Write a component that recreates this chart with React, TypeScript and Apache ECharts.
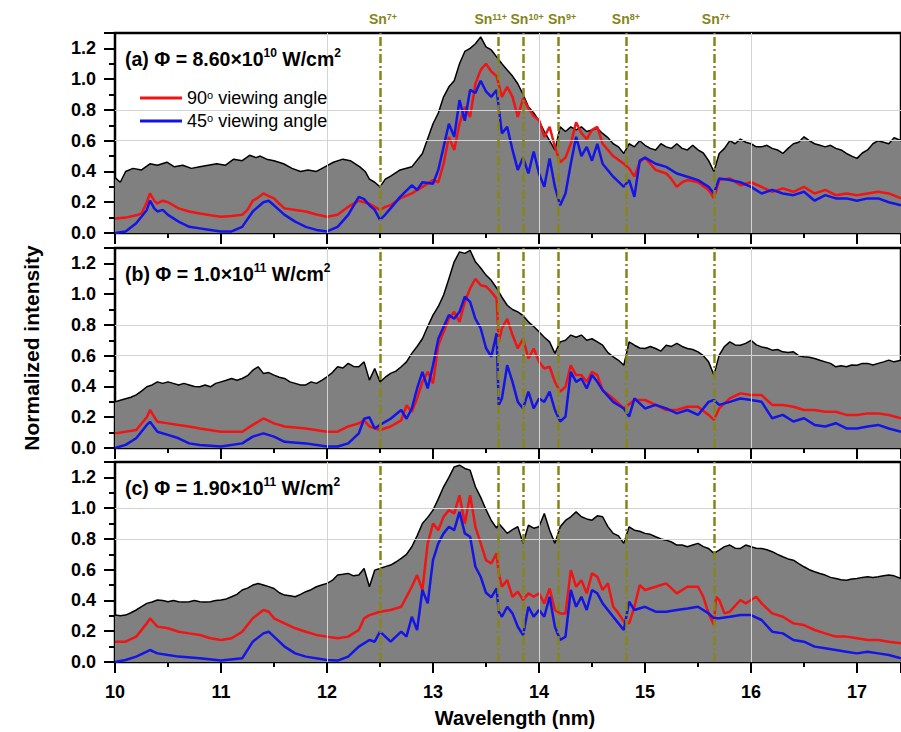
import React, { useEffect, useRef } from "react";
import * as echarts from "echarts";

// ---- Data (wavelength nm, normalized intensity) ----
const aBlack: [number, number][] = [[10.0,0.36],[10.05,0.33],[10.1,0.40],[10.17,0.42],[10.25,0.41],[10.33,0.45],[10.4,0.44],[10.49,0.46],[10.56,0.43],[10.64,0.44],[10.72,0.42],[10.8,0.43],[10.88,0.44],[10.96,0.45],[11.04,0.44],[11.12,0.48],[11.2,0.47],[11.27,0.505],[11.33,0.49],[11.37,0.50],[11.43,0.48],[11.5,0.47],[11.59,0.45],[11.67,0.42],[11.75,0.40],[11.82,0.41],[11.9,0.40],[11.98,0.43],[12.06,0.46],[12.15,0.48],[12.22,0.47],[12.31,0.43],[12.36,0.40],[12.4,0.35],[12.45,0.33],[12.5,0.30],[12.55,0.35],[12.6,0.37],[12.69,0.41],[12.8,0.43],[12.9,0.517],[13.0,0.71],[13.05,0.78],[13.1,0.885],[13.15,0.95],[13.2,0.99],[13.25,1.10],[13.3,1.18],[13.35,1.20],[13.4,1.23],[13.45,1.275],[13.5,1.21],[13.55,1.19],[13.6,1.145],[13.65,1.10],[13.7,1.06],[13.75,1.02],[13.8,0.97],[13.85,0.90],[13.9,0.82],[13.95,0.78],[14.0,0.73],[14.05,0.66],[14.1,0.60],[14.15,0.54],[14.2,0.69],[14.25,0.66],[14.3,0.69],[14.35,0.67],[14.4,0.69],[14.45,0.66],[14.5,0.67],[14.55,0.68],[14.6,0.647],[14.65,0.62],[14.7,0.58],[14.75,0.56],[14.8,0.517],[14.85,0.58],[14.9,0.56],[14.95,0.60],[15.0,0.57],[15.05,0.55],[15.1,0.54],[15.15,0.58],[15.2,0.56],[15.25,0.55],[15.3,0.58],[15.35,0.55],[15.4,0.54],[15.45,0.57],[15.5,0.54],[15.55,0.52],[15.6,0.47],[15.65,0.40],[15.7,0.517],[15.75,0.55],[15.8,0.60],[15.85,0.58],[15.9,0.61],[15.95,0.59],[16.0,0.58],[16.05,0.56],[16.1,0.56],[16.15,0.57],[16.2,0.55],[16.25,0.54],[16.3,0.517],[16.35,0.55],[16.4,0.58],[16.45,0.59],[16.5,0.625],[16.55,0.60],[16.6,0.58],[16.65,0.57],[16.7,0.56],[16.75,0.57],[16.8,0.55],[16.85,0.54],[16.9,0.517],[16.95,0.50],[17.0,0.485],[17.05,0.52],[17.1,0.54],[17.15,0.58],[17.2,0.60],[17.25,0.59],[17.3,0.58],[17.35,0.62],[17.415,0.60]];
const aRed: [number, number][] = [[10.0,0.095],[10.1,0.10],[10.2,0.115],[10.25,0.127],[10.3,0.20],[10.33,0.257],[10.37,0.21],[10.4,0.192],[10.45,0.21],[10.5,0.20],[10.6,0.16],[10.7,0.14],[10.8,0.127],[10.9,0.115],[11.0,0.106],[11.1,0.11],[11.2,0.118],[11.25,0.15],[11.3,0.21],[11.35,0.23],[11.4,0.257],[11.45,0.24],[11.5,0.225],[11.55,0.19],[11.6,0.16],[11.7,0.15],[11.8,0.14],[11.9,0.12],[12.0,0.106],[12.1,0.118],[12.2,0.17],[12.3,0.21],[12.35,0.20],[12.4,0.19],[12.45,0.17],[12.5,0.15],[12.55,0.17],[12.6,0.18],[12.69,0.225],[12.8,0.257],[12.9,0.30],[13.0,0.344],[13.05,0.33],[13.1,0.45],[13.15,0.625],[13.2,0.54],[13.25,0.71],[13.3,0.82],[13.35,0.755],[13.4,0.97],[13.45,1.06],[13.5,1.10],[13.55,1.05],[13.6,1.02],[13.65,0.885],[13.7,0.95],[13.75,0.885],[13.8,0.755],[13.85,0.875],[13.9,0.81],[13.95,0.76],[14.0,0.733],[14.05,0.625],[14.1,0.69],[14.15,0.56],[14.2,0.46],[14.25,0.49],[14.3,0.58],[14.35,0.72],[14.4,0.65],[14.45,0.61],[14.5,0.67],[14.55,0.69],[14.6,0.58],[14.7,0.50],[14.8,0.45],[14.85,0.42],[14.9,0.366],[14.95,0.46],[15.0,0.49],[15.05,0.45],[15.1,0.41],[15.2,0.387],[15.25,0.35],[15.3,0.30],[15.35,0.33],[15.4,0.344],[15.5,0.33],[15.6,0.28],[15.65,0.225],[15.7,0.344],[15.8,0.355],[15.9,0.31],[16.0,0.33],[16.1,0.30],[16.2,0.268],[16.3,0.29],[16.4,0.268],[16.5,0.30],[16.6,0.257],[16.7,0.28],[16.8,0.246],[16.9,0.257],[17.0,0.246],[17.1,0.257],[17.2,0.268],[17.3,0.257],[17.415,0.225]];
const aBlue: [number, number][] = [[10.0,0.0],[10.1,0.01],[10.2,0.063],[10.3,0.15],[10.33,0.21],[10.37,0.16],[10.4,0.14],[10.45,0.15],[10.5,0.118],[10.6,0.074],[10.7,0.04],[10.8,0.03],[10.9,0.02],[11.0,0.01],[11.1,0.01],[11.2,0.04],[11.3,0.14],[11.4,0.20],[11.45,0.21],[11.5,0.18],[11.6,0.118],[11.7,0.074],[11.8,0.04],[11.9,0.02],[12.0,0.01],[12.1,0.04],[12.2,0.118],[12.3,0.235],[12.35,0.22],[12.4,0.18],[12.45,0.15],[12.5,0.085],[12.55,0.12],[12.6,0.16],[12.69,0.235],[12.8,0.31],[12.85,0.28],[12.9,0.33],[13.0,0.32],[13.05,0.41],[13.1,0.56],[13.15,0.71],[13.2,0.625],[13.25,0.864],[13.3,0.73],[13.35,0.93],[13.4,0.91],[13.45,0.99],[13.5,0.92],[13.55,0.885],[13.6,0.93],[13.65,0.647],[13.7,0.69],[13.75,0.54],[13.8,0.41],[13.85,0.49],[13.9,0.387],[13.95,0.53],[14.0,0.387],[14.05,0.30],[14.1,0.485],[14.15,0.30],[14.2,0.18],[14.25,0.257],[14.3,0.45],[14.35,0.625],[14.4,0.50],[14.45,0.56],[14.5,0.47],[14.55,0.58],[14.6,0.45],[14.7,0.366],[14.8,0.30],[14.85,0.344],[14.9,0.235],[14.95,0.47],[15.0,0.49],[15.1,0.45],[15.2,0.43],[15.3,0.387],[15.4,0.366],[15.5,0.344],[15.6,0.30],[15.65,0.257],[15.7,0.355],[15.8,0.344],[15.9,0.33],[16.0,0.30],[16.1,0.257],[16.2,0.28],[16.3,0.257],[16.4,0.246],[16.5,0.268],[16.6,0.21],[16.7,0.246],[16.8,0.225],[16.9,0.225],[17.0,0.21],[17.1,0.225],[17.2,0.225],[17.3,0.20],[17.415,0.18]];

const bBlack: [number, number][] = [[10.0,0.30],[10.05,0.31],[10.1,0.32],[10.15,0.33],[10.2,0.345],[10.25,0.37],[10.3,0.398],[10.35,0.41],[10.4,0.43],[10.45,0.42],[10.5,0.43],[10.55,0.42],[10.6,0.41],[10.65,0.42],[10.7,0.41],[10.75,0.40],[10.8,0.398],[10.85,0.41],[10.9,0.398],[10.95,0.42],[11.0,0.43],[11.05,0.44],[11.1,0.452],[11.15,0.44],[11.2,0.452],[11.25,0.47],[11.3,0.506],[11.35,0.528],[11.4,0.485],[11.45,0.49],[11.5,0.474],[11.55,0.46],[11.6,0.452],[11.65,0.43],[11.7,0.42],[11.75,0.41],[11.8,0.41],[11.85,0.43],[11.9,0.42],[11.95,0.44],[12.0,0.463],[12.05,0.49],[12.1,0.528],[12.15,0.52],[12.2,0.55],[12.25,0.53],[12.3,0.528],[12.35,0.56],[12.4,0.441],[12.45,0.517],[12.5,0.43],[12.55,0.46],[12.6,0.485],[12.65,0.50],[12.7,0.528],[12.75,0.56],[12.8,0.615],[12.85,0.66],[12.9,0.71],[12.95,0.79],[13.0,0.864],[13.05,0.92],[13.1,0.994],[13.15,1.10],[13.2,1.21],[13.25,1.275],[13.3,1.265],[13.35,1.285],[13.4,1.21],[13.45,1.17],[13.5,1.124],[13.55,1.09],[13.6,1.04],[13.65,0.98],[13.7,0.928],[13.75,0.90],[13.8,0.885],[13.85,0.86],[13.9,0.82],[13.95,0.79],[14.0,0.755],[14.05,0.72],[14.1,0.69],[14.15,0.615],[14.2,0.69],[14.25,0.70],[14.3,0.734],[14.35,0.72],[14.4,0.734],[14.45,0.70],[14.5,0.71],[14.55,0.69],[14.6,0.668],[14.65,0.62],[14.7,0.593],[14.75,0.57],[14.8,0.538],[14.85,0.69],[14.9,0.668],[14.95,0.65],[15.0,0.647],[15.05,0.66],[15.1,0.647],[15.15,0.63],[15.2,0.668],[15.25,0.66],[15.3,0.68],[15.35,0.66],[15.4,0.647],[15.45,0.64],[15.5,0.625],[15.55,0.60],[15.6,0.56],[15.65,0.474],[15.7,0.604],[15.75,0.66],[15.8,0.69],[15.85,0.67],[15.9,0.668],[15.95,0.68],[16.0,0.70],[16.05,0.67],[16.1,0.657],[16.15,0.65],[16.2,0.636],[16.25,0.64],[16.3,0.625],[16.35,0.62],[16.4,0.625],[16.45,0.60],[16.5,0.593],[16.55,0.59],[16.6,0.582],[16.65,0.57],[16.7,0.56],[16.75,0.55],[16.8,0.528],[16.85,0.535],[16.9,0.528],[16.95,0.54],[17.0,0.538],[17.05,0.55],[17.1,0.55],[17.15,0.54],[17.2,0.55],[17.25,0.56],[17.3,0.571],[17.35,0.56],[17.415,0.571]];
const bRed: [number, number][] = [[10.0,0.095],[10.2,0.117],[10.3,0.20],[10.33,0.247],[10.4,0.17],[10.5,0.16],[10.6,0.15],[10.7,0.14],[10.8,0.127],[11.0,0.106],[11.2,0.106],[11.3,0.15],[11.4,0.192],[11.5,0.16],[11.6,0.14],[11.8,0.127],[12.0,0.106],[12.1,0.106],[12.2,0.14],[12.3,0.16],[12.35,0.18],[12.4,0.14],[12.5,0.117],[12.6,0.14],[12.7,0.18],[12.75,0.277],[12.8,0.236],[12.85,0.322],[12.9,0.43],[12.95,0.495],[13.0,0.42],[13.05,0.668],[13.1,0.755],[13.15,0.84],[13.2,0.885],[13.25,0.82],[13.3,0.95],[13.35,1.037],[13.4,1.10],[13.45,1.058],[13.5,1.05],[13.55,1.015],[13.6,0.972],[13.62,0.69],[13.65,0.777],[13.7,0.84],[13.75,0.734],[13.8,0.647],[13.85,0.71],[13.9,0.582],[13.95,0.647],[14.0,0.56],[14.05,0.517],[14.1,0.528],[14.15,0.43],[14.2,0.366],[14.25,0.398],[14.3,0.538],[14.35,0.474],[14.4,0.474],[14.45,0.43],[14.5,0.495],[14.55,0.474],[14.6,0.376],[14.7,0.322],[14.8,0.257],[14.9,0.312],[15.0,0.312],[15.1,0.28],[15.2,0.247],[15.3,0.247],[15.4,0.268],[15.5,0.268],[15.6,0.215],[15.65,0.183],[15.7,0.257],[15.8,0.322],[15.9,0.355],[16.0,0.344],[16.1,0.344],[16.2,0.28],[16.3,0.28],[16.4,0.268],[16.5,0.247],[16.6,0.247],[16.7,0.236],[16.8,0.236],[16.9,0.215],[17.0,0.215],[17.1,0.225],[17.2,0.225],[17.3,0.215],[17.415,0.193]];
const bBlue: [number, number][] = [[10.0,0.0],[10.1,0.02],[10.2,0.063],[10.3,0.15],[10.33,0.17],[10.4,0.106],[10.5,0.085],[10.6,0.063],[10.7,0.03],[10.8,0.02],[11.0,0.01],[11.2,0.03],[11.3,0.074],[11.4,0.095],[11.5,0.074],[11.6,0.04],[11.8,0.03],[12.0,0.01],[12.1,0.01],[12.2,0.03],[12.3,0.095],[12.35,0.19],[12.4,0.20],[12.45,0.127],[12.5,0.15],[12.6,0.19],[12.7,0.247],[12.75,0.19],[12.8,0.257],[12.85,0.387],[12.9,0.495],[12.95,0.387],[13.0,0.538],[13.05,0.71],[13.1,0.788],[13.15,0.864],[13.2,0.84],[13.25,0.885],[13.3,0.983],[13.35,0.95],[13.4,0.84],[13.45,0.777],[13.5,0.65],[13.55,0.593],[13.6,0.745],[13.62,0.28],[13.65,0.322],[13.7,0.538],[13.75,0.43],[13.8,0.30],[13.85,0.257],[13.9,0.366],[13.95,0.257],[14.0,0.322],[14.05,0.30],[14.1,0.366],[14.15,0.247],[14.2,0.172],[14.25,0.204],[14.3,0.495],[14.35,0.43],[14.4,0.452],[14.45,0.387],[14.5,0.474],[14.55,0.43],[14.6,0.376],[14.7,0.30],[14.8,0.257],[14.85,0.204],[14.9,0.322],[15.0,0.257],[15.1,0.28],[15.2,0.257],[15.3,0.225],[15.4,0.247],[15.5,0.215],[15.6,0.30],[15.65,0.312],[15.7,0.28],[15.8,0.30],[15.9,0.322],[16.0,0.312],[16.1,0.30],[16.2,0.193],[16.3,0.215],[16.4,0.172],[16.5,0.193],[16.6,0.15],[16.7,0.14],[16.8,0.161],[16.9,0.127],[17.0,0.127],[17.1,0.14],[17.2,0.15],[17.3,0.127],[17.415,0.106]];

const cBlack: [number, number][] = [[10.0,0.305],[10.05,0.30],[10.1,0.305],[10.15,0.32],[10.2,0.338],[10.25,0.36],[10.3,0.381],[10.35,0.39],[10.4,0.403],[10.45,0.40],[10.5,0.392],[10.55,0.40],[10.6,0.392],[10.65,0.39],[10.7,0.392],[10.75,0.40],[10.8,0.392],[10.85,0.39],[10.9,0.392],[10.95,0.40],[11.0,0.403],[11.05,0.41],[11.1,0.424],[11.15,0.44],[11.2,0.468],[11.25,0.48],[11.3,0.50],[11.35,0.51],[11.4,0.50],[11.45,0.49],[11.5,0.478],[11.55,0.45],[11.6,0.435],[11.65,0.43],[11.7,0.424],[11.75,0.44],[11.8,0.457],[11.85,0.47],[11.9,0.489],[11.95,0.50],[12.0,0.511],[12.05,0.53],[12.1,0.565],[12.15,0.57],[12.2,0.576],[12.25,0.56],[12.3,0.565],[12.35,0.608],[12.4,0.489],[12.45,0.597],[12.5,0.608],[12.55,0.62],[12.6,0.63],[12.65,0.65],[12.7,0.673],[12.75,0.70],[12.8,0.749],[12.85,0.82],[12.9,0.90],[12.95,0.94],[13.0,0.987],[13.05,1.06],[13.1,1.139],[13.15,1.20],[13.2,1.268],[13.25,1.279],[13.3,1.258],[13.35,1.247],[13.4,1.139],[13.45,1.07],[13.5,0.99],[13.55,0.92],[13.6,0.87],[13.62,0.90],[13.66,0.87],[13.7,0.836],[13.75,0.86],[13.8,0.879],[13.85,0.771],[13.9,0.889],[13.95,0.87],[14.0,0.879],[14.05,0.965],[14.1,0.857],[14.15,0.771],[14.2,0.879],[14.25,0.92],[14.3,0.944],[14.35,0.976],[14.4,0.944],[14.45,0.93],[14.5,0.922],[14.55,0.95],[14.6,0.944],[14.65,0.88],[14.7,0.836],[14.75,0.82],[14.8,0.771],[14.85,0.879],[14.9,0.857],[14.95,0.85],[15.0,0.836],[15.05,0.83],[15.1,0.814],[15.15,0.80],[15.2,0.792],[15.25,0.78],[15.3,0.76],[15.35,0.76],[15.4,0.749],[15.45,0.76],[15.5,0.771],[15.55,0.75],[15.6,0.738],[15.65,0.706],[15.7,0.727],[15.75,0.75],[15.8,0.76],[15.85,0.74],[15.9,0.738],[15.95,0.76],[16.0,0.749],[16.05,0.74],[16.1,0.738],[16.15,0.73],[16.2,0.717],[16.25,0.70],[16.3,0.684],[16.35,0.67],[16.4,0.662],[16.45,0.64],[16.5,0.619],[16.55,0.60],[16.6,0.587],[16.65,0.575],[16.7,0.565],[16.75,0.55],[16.8,0.543],[16.85,0.535],[16.9,0.532],[16.95,0.54],[17.0,0.543],[17.05,0.55],[17.1,0.554],[17.15,0.55],[17.2,0.554],[17.25,0.56],[17.3,0.565],[17.35,0.56],[17.415,0.543]];
const cRed: [number, number][] = [[10.0,0.132],[10.1,0.132],[10.2,0.165],[10.3,0.251],[10.33,0.284],[10.4,0.23],[10.5,0.219],[10.6,0.197],[10.7,0.186],[10.8,0.176],[10.9,0.154],[11.0,0.143],[11.1,0.154],[11.2,0.197],[11.3,0.284],[11.4,0.338],[11.45,0.327],[11.5,0.284],[11.6,0.251],[11.7,0.219],[11.8,0.197],[11.9,0.176],[12.0,0.165],[12.1,0.154],[12.2,0.165],[12.3,0.208],[12.35,0.284],[12.4,0.305],[12.5,0.327],[12.6,0.338],[12.7,0.359],[12.75,0.424],[12.8,0.489],[12.85,0.565],[12.9,0.468],[12.95,0.771],[13.0,0.90],[13.05,0.857],[13.1,0.944],[13.15,0.987],[13.2,0.965],[13.25,1.084],[13.3,0.90],[13.35,1.084],[13.4,0.879],[13.45,0.771],[13.5,0.662],[13.55,0.64],[13.6,0.706],[13.62,0.576],[13.65,0.489],[13.7,0.532],[13.75,0.424],[13.8,0.457],[13.85,0.403],[13.9,0.446],[13.95,0.424],[14.0,0.446],[14.05,0.381],[14.1,0.478],[14.15,0.338],[14.2,0.316],[14.25,0.316],[14.3,0.597],[14.35,0.489],[14.4,0.532],[14.45,0.446],[14.5,0.576],[14.55,0.554],[14.6,0.468],[14.65,0.511],[14.7,0.359],[14.75,0.316],[14.8,0.262],[14.85,0.251],[14.9,0.359],[14.95,0.50],[15.0,0.468],[15.1,0.489],[15.2,0.511],[15.3,0.446],[15.4,0.489],[15.5,0.489],[15.55,0.424],[15.6,0.316],[15.65,0.24],[15.67,0.424],[15.7,0.403],[15.75,0.316],[15.8,0.327],[15.9,0.403],[15.95,0.381],[16.0,0.403],[16.05,0.424],[16.1,0.381],[16.2,0.316],[16.3,0.294],[16.4,0.251],[16.5,0.24],[16.6,0.208],[16.7,0.186],[16.8,0.165],[16.9,0.165],[17.0,0.154],[17.1,0.143],[17.2,0.143],[17.3,0.132],[17.415,0.121]];
const cBlue: [number, number][] = [[10.0,0.0],[10.1,0.013],[10.2,0.035],[10.3,0.067],[10.33,0.078],[10.4,0.056],[10.5,0.045],[10.6,0.035],[10.8,0.024],[11.0,0.009],[11.2,0.024],[11.3,0.132],[11.4,0.186],[11.45,0.197],[11.5,0.165],[11.6,0.10],[11.7,0.056],[11.8,0.035],[12.0,0.013],[12.1,0.009],[12.2,0.035],[12.3,0.10],[12.4,0.143],[12.45,0.132],[12.5,0.197],[12.55,0.165],[12.6,0.132],[12.7,0.197],[12.75,0.165],[12.8,0.294],[12.85,0.208],[12.9,0.468],[12.95,0.381],[13.0,0.662],[13.05,0.771],[13.1,0.836],[13.15,0.879],[13.2,0.857],[13.25,0.976],[13.3,0.836],[13.35,0.814],[13.4,0.619],[13.45,0.554],[13.5,0.45],[13.55,0.42],[13.6,0.478],[13.62,0.327],[13.65,0.294],[13.7,0.359],[13.75,0.316],[13.8,0.229],[13.85,0.175],[13.9,0.359],[13.95,0.294],[14.0,0.338],[14.05,0.294],[14.1,0.424],[14.15,0.229],[14.2,0.143],[14.25,0.165],[14.3,0.468],[14.35,0.359],[14.4,0.424],[14.45,0.338],[14.5,0.468],[14.55,0.446],[14.6,0.381],[14.7,0.294],[14.75,0.251],[14.8,0.208],[14.85,0.392],[14.9,0.338],[15.0,0.359],[15.1,0.327],[15.2,0.327],[15.3,0.338],[15.4,0.348],[15.5,0.359],[15.6,0.316],[15.65,0.284],[15.7,0.284],[15.8,0.294],[15.9,0.305],[16.0,0.305],[16.1,0.273],[16.2,0.197],[16.3,0.186],[16.4,0.143],[16.5,0.132],[16.6,0.10],[16.7,0.089],[16.8,0.078],[16.9,0.067],[17.0,0.056],[17.1,0.067],[17.2,0.056],[17.3,0.045],[17.415,0.024]];

const ionLines: number[] = [12.5, 13.62, 13.85, 14.18, 14.82, 15.65];
const ionLabels: string[] = ["7+", "11+", "10+", "9+", "8+", "7+"];
const ionLabelShift: number[] = [3, -8, 4, 4, 0, 2];

const panelTitles = [
  { tag: "(a)", base: "8.60", exp: "10" },
  { tag: "(b)", base: "1.0", exp: "11" },
  { tag: "(c)", base: "1.90", exp: "11" },
];
const panelGridY: number[][] = [[0.6, 0.8], [0.6, 0.8], [0.8, 1.0]];
const gridX: number[] = [12, 14, 16];

const NAME90 = "90° viewing angle";
const NAME45 = "45° viewing angle";

const FONT = "'Liberation Sans', Arial, Helvetica, sans-serif";
const OLIVE = "#85851a";

export default function App() {
  const ref = useRef<HTMLDivElement>(null);

  useEffect(() => {
    if (!ref.current) return;
    const chart = echarts.init(ref.current, undefined, { renderer: "svg" });
    const tops = [33, 248, 462];
    const H = 200;
    const panels = [
      { black: aBlack, red: aRed, blue: aBlue },
      { black: bBlack, red: bRed, blue: bBlue },
      { black: cBlack, red: cRed, blue: cBlue },
    ];

    const grid = tops.map((t) => ({
      left: 115,
      right: 0,
      top: t,
      height: H,
      show: true,
      borderColor: "#000",
      borderWidth: 2.5,
      backgroundColor: "transparent",
    }));

    const xAxis = tops.map((_, i) => ({
      type: "value",
      gridIndex: i,
      min: 10,
      max: 17.415,
      interval: 1,
      axisLine: { show: true, onZero: false, lineStyle: { color: "#000", width: 2 } },
      axisTick: { show: true, inside: false, length: 11, lineStyle: { color: "#000", width: 2 } },
      minorTick: { show: true, splitNumber: 2, length: 5, lineStyle: { color: "#000", width: 2 } },
      splitLine: { show: false },
      axisLabel: {
        show: i === 2,
        margin: 21,
        color: "#000",
        fontSize: 18,
        fontWeight: "bold",
        fontFamily: FONT,
        showMaxLabel: false,
      },
      name: i === 2 ? "Wavelength (nm)" : "",
      nameLocation: "middle",
      nameGap: 46,
      nameTextStyle: { color: "#000", fontSize: 20, fontWeight: "bold", fontFamily: FONT, padding: [0, 0, 0, 14] },
    }));

    const yAxis = tops.map((_, i) => ({
      type: "value",
      gridIndex: i,
      min: 0,
      max: 1.3,
      interval: 0.2,
      axisLine: { show: true, lineStyle: { color: "#000", width: 2 } },
      axisTick: { show: true, inside: false, length: 11, lineStyle: { color: "#000", width: 2 } },
      minorTick: { show: true, splitNumber: 2, length: 6, lineStyle: { color: "#000", width: 2 } },
      splitLine: { show: false },
      axisLabel: {
        margin: 19,
        color: "#000",
        fontSize: 18,
        fontWeight: "bold",
        fontFamily: FONT,
        showMaxLabel: false,
        formatter: (v: number) => (Math.abs(v - 1.3) < 1e-6 ? "" : v.toFixed(1)),
      },
      name: i === 1 ? "Normalized intensity" : "",
      nameLocation: "middle",
      nameGap: 73,
      nameTextStyle: { color: "#000", fontSize: 21, fontWeight: "bold", fontFamily: FONT },
    }));

    const series: any[] = [];
    panels.forEach((p, i) => {
      series.push({
        type: "line",
        xAxisIndex: i,
        yAxisIndex: i,
        data: [],
        z: 0,
        silent: true,
        markLine: {
          silent: true,
          symbol: "none",
          animation: false,
          label: { show: false },
          lineStyle: { color: "#d4d4d4", width: 1, type: "solid" },
          data: [
            ...panelGridY[i].map((v) => ({ yAxis: v })),
            ...gridX.map((v) => ({ xAxis: v })),
          ],
        },
      });
      series.push({
        type: "line",
        name: "total",
        xAxisIndex: i,
        yAxisIndex: i,
        data: p.black,
        showSymbol: false,
        symbol: "none",
        z: 1,
        lineStyle: { color: "#000", width: 1.5 },
        itemStyle: { color: "#000" },
        areaStyle: { color: "#808080", opacity: 1 },
      });
      series.push({
        type: "line",
        xAxisIndex: i,
        yAxisIndex: i,
        data: [],
        z: 2,
        silent: true,
        markLine: {
          silent: true,
          symbol: "none",
          animation: false,
          lineStyle: { color: OLIVE, width: 2.5, type: [9, 3, 2, 3] },
          label: {
            show: i === 0,
            position: "end",
            distance: 7,
            formatter: (params: any) => `{b|Sn}{s|${params.name}}`,
            rich: {
              b: { fontSize: 14, fontWeight: "bold", color: OLIVE, fontFamily: FONT },
              s: { fontSize: 9, fontWeight: "bold", color: OLIVE, fontFamily: FONT, verticalAlign: "top" },
            },
          },
          data: ionLines.map((v, k) => ({
            xAxis: v,
            name: ionLabels[k],
            label: { offset: [ionLabelShift[k], 0] },
          })),
        },
      });
      series.push({
        type: "line",
        name: NAME90,
        xAxisIndex: i,
        yAxisIndex: i,
        data: p.red,
        showSymbol: false,
        symbol: "none",
        z: 3,
        lineStyle: { color: "#f01414", width: 2.5 },
        itemStyle: { color: "#f01414" },
      });
      series.push({
        type: "line",
        name: NAME45,
        xAxisIndex: i,
        yAxisIndex: i,
        data: p.blue,
        showSymbol: false,
        symbol: "none",
        z: 4,
        lineStyle: { color: "#1414e6", width: 2.5 },
        itemStyle: { color: "#1414e6" },
      });
    });

    const graphic = panelTitles.map((pt, i) => ({
      type: "text",
      left: 125,
      top: tops[i] + 14,
      z: 10,
      style: {
        text: `{t|${pt.tag} Φ = ${pt.base}×10}{s|${pt.exp}}{t| W/cm}{s|2}`,
        fill: "#000",
        rich: {
          t: { fontSize: 19.5, fontWeight: "bold", fontFamily: FONT, fill: "#000", lineHeight: 24 },
          s: { fontSize: 12, fontWeight: "bold", fontFamily: FONT, fill: "#000", verticalAlign: "top" },
        },
      },
    }));

    chart.setOption({
      animation: false,
      backgroundColor: "#fff",
      grid,
      xAxis,
      yAxis,
      series,
      graphic,
      legend: {
        data: [NAME90, NAME45],
        orient: "vertical",
        left: 135,
        top: 84,
        itemWidth: 42,
        itemHeight: 3,
        itemGap: 5,
        icon: "rect",
        selectedMode: false,
        formatter: (name: string) => `{n|${name.slice(0, 2)}}{s|o}{n|${name.slice(3)}}`,
        textStyle: {
          color: "#000",
          rich: {
            n: { fontSize: 18, fontFamily: FONT, color: "#000" },
            s: { fontSize: 11, fontFamily: FONT, color: "#000", verticalAlign: "top" },
          },
        },
      },
    });

    return () => chart.dispose();
  }, []);

  return (
    <div
      ref={ref}
      style={{ position: "fixed", left: 0, top: 0, width: 901, height: 732, background: "#fff" }}
    />
  );
}
